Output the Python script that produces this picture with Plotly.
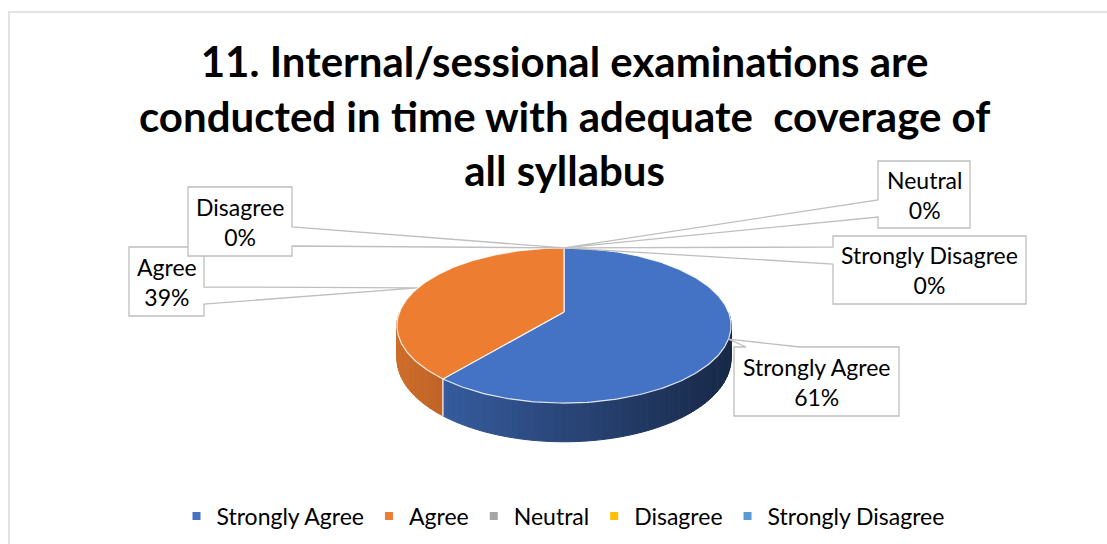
import numpy as np
import plotly.graph_objects as go

# ---- data ----
categories = ["Strongly Agree", "Agree", "Neutral", "Disagree", "Strongly Disagree"]
shares = [61, 39, 0, 0, 0]
slice_colors = ["#4472C4", "#ED7D31", "#A5A5A5", "#FFC000", "#5B9BD5"]
title_lines = [
    "11. Internal/sessional examinations are",
    "conducted in time with adequate  coverage of",
    "all syllabus",
]

# ---- page / pie geometry (pixels) ----
W, H = 1107, 544
CX, CY = 564, 312          # centre of the top face
RX, RY = 164.5, 75.2       # radii of the tilted disc
PERSP = 0.174              # perspective strength (back smaller, front larger)
DEPTH = 32                 # thickness of the disc

# callout boxes: x0, y0, x1, y1, side the pointer leaves from, pointer span on that side
callout_boxes = {
    "Strongly Agree": (734, 347, 899, 416, "top", 746, 800),
    "Agree": (129, 247, 204, 316, "right", 287, 304),
    "Neutral": (878, 161, 970, 228, "left", 200, 217),
    "Disagree": (188, 187, 292, 256, "right", 227, 246),
    "Strongly Disagree": (833, 236, 1026, 304, "left", 247, 264),
}

FONT_FAMILY = "Lato, 'Open Sans', sans-serif"
LABEL_FONT = dict(family=FONT_FAMILY, size=23, color="#000000")
GRID = "#bfbfbf"


def project(theta, drop=0.0):
    """Angle measured clockwise from 12 o'clock -> page pixel position."""
    u = np.sin(theta)
    v = np.cos(theta)
    s = 1.0 / (1.0 + PERSP * v)
    return CX + RX * u * s, CY - RY * v * s + drop * s


def shade(hex_color, x):
    """Darken a colour for the side wall, lit from the left."""
    t = (x - (CX - RX)) / (2 * RX)
    f = max(0.3, 0.87 - 0.5 * t)
    r, g, b = (int(hex_color[i:i + 2], 16) for i in (1, 3, 5))
    return "rgb({},{},{})".format(int(r * f), int(g * f), int(b * f))


total = float(sum(shares))
fractions = [s / total for s in shares]
starts = np.concatenate([[0.0], np.cumsum(fractions)[:-1]]) * 2 * np.pi
ends = np.cumsum(fractions) * 2 * np.pi

fig = go.Figure()

# ---- side wall (front half only) ----
for cat, col, a0, a1 in zip(categories, slice_colors, starts, ends):
    lo, hi = max(a0, np.pi / 2), min(a1, 3 * np.pi / 2)
    if hi <= lo:
        continue
    n = max(2, int(np.degrees(hi - lo) / 2))
    edges = np.linspace(lo, hi, n + 1)
    for t0, t1 in zip(edges[:-1], edges[1:]):
        xa, ya = project(t0)
        xb, yb = project(t1)
        xc, yc = project(t1, DEPTH)
        xd, yd = project(t0, DEPTH)
        c = shade(col, (xa + xb) / 2)
        fig.add_trace(go.Scatter(
            x=[xa, xb, xc, xd, xa], y=[ya, yb, yc, yd, ya],
            mode="lines", fill="toself", fillcolor=c,
            line=dict(color=c, width=1), hoverinfo="skip", showlegend=False))

# light seam where slices meet on the wall
for a in list(starts) + list(ends):
    if np.pi / 2 < a < 3 * np.pi / 2:
        x0, y0 = project(a)
        x1, y1 = project(a, DEPTH)
        fig.add_trace(go.Scatter(x=[x0, x1], y=[y0, y1], mode="lines",
                                 line=dict(color="rgba(255,255,255,0.7)", width=1),
                                 hoverinfo="skip", showlegend=False))

# ---- top face ----
for cat, col, a0, a1, val in zip(categories, slice_colors, starts, ends, shares):
    if a1 - a0 <= 0:
        continue
    th = np.linspace(a0, a1, max(3, int(np.degrees(a1 - a0))))
    px, py = project(th)
    xs = np.concatenate([[CX], px, [CX]])
    ys = np.concatenate([[CY], py, [CY]])
    fig.add_trace(go.Scatter(
        x=xs, y=ys, mode="lines", fill="toself", fillcolor=col,
        line=dict(color="rgba(255,255,255,0.85)", width=1.2),
        hovertext=f"{cat}: {val}%", hoverinfo="text", showlegend=False))

# ---- legend entries ----
for cat, col in zip(categories, slice_colors):
    fig.add_trace(go.Scatter(x=[None], y=[None], mode="markers", name=cat,
                             marker=dict(symbol="square", size=8, color=col)))

# ---- callouts ----
shapes = []
annotations = []
for cat, a0, a1, val in zip(categories, starts, ends, shares):
    tx, ty = project((a0 + a1) / 2)
    x0, y0, x1, y1, side, p, q = callout_boxes[cat]
    if side == "right":
        pts = [(x0, y0), (x1, y0), (x1, p), (tx, ty), (x1, q), (x1, y1), (x0, y1)]
    elif side == "left":
        pts = [(x0, y0), (x1, y0), (x1, y1), (x0, y1), (x0, q), (tx, ty), (x0, p)]
    else:  # top
        pts = [(x0, y0), (p, y0), (tx, ty), (q, y0), (x1, y0), (x1, y1), (x0, y1)]
    path = "M " + " L ".join(f"{x:.1f},{y:.1f}" for x, y in pts) + " Z"
    shapes.append(dict(type="path", path=path, xref="x", yref="y",
                       fillcolor="white", line=dict(color=GRID, width=1.3), layer="above"))
    annotations.append(dict(x=(x0 + x1) / 2, y=(y0 + y1) / 2, xref="x", yref="y",
                            text=f"{cat}<br>{val}%", showarrow=False,
                            font=LABEL_FONT, align="center"))

# chart title, three centred lines
annotations.append(dict(x=564, y=115, xref="x", yref="y", xanchor="center", yanchor="middle",
                        text="<br>".join(title_lines), showarrow=False, align="center",
                        font=dict(family=FONT_FAMILY, size=42, color="#000000",
                                  weight="bold")))

# chart frame
shapes.append(dict(type="rect", xref="x", yref="y", x0=9, y0=12, x1=W + 5, y1=H + 5,
                   line=dict(color="#d9d9d9", width=1.5), fillcolor="rgba(0,0,0,0)",
                   layer="below"))

fig.update_layout(
    width=W, height=H,
    margin=dict(l=0, r=0, t=0, b=0),
    paper_bgcolor="white", plot_bgcolor="white",
    xaxis=dict(range=[0, W], visible=False, fixedrange=True),
    yaxis=dict(range=[H, 0], visible=False, fixedrange=True),
    showlegend=True,
    legend=dict(orientation="h", x=563 / W, xanchor="center", y=1 - 516 / H,
                yanchor="middle", font=LABEL_FONT, bgcolor="rgba(0,0,0,0)"),
    shapes=shapes,
    annotations=annotations,
)

fig.write_html("out.html")
